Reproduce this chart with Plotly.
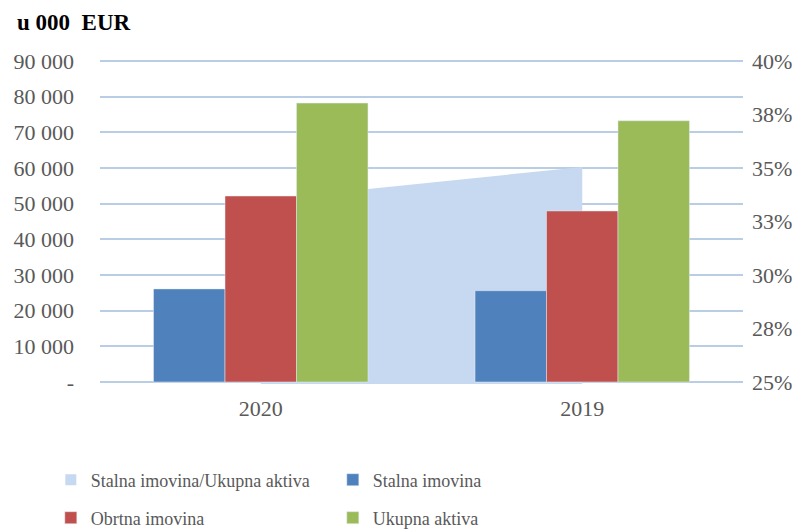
import plotly.graph_objects as go

categories = ["2020", "2019"]
stalna = [26100, 25600]
obrtna = [52150, 47950]
ukupna = [78200, 73250]
ratio = [33.5, 35.05]  # percent

left_ticks = [0, 10000, 20000, 30000, 40000, 50000, 60000, 70000, 80000, 90000]
left_ticktext = ["-", "10 000", "20 000", "30 000", "40 000", "50 000", "60 000", "70 000", "80 000", "90 000"]
right_ticks = [25, 27.5, 30, 32.5, 35, 37.5, 40]
right_ticktext = ["25%", "28%", "30%", "33%", "35%", "38%", "40%"]

FONT = "Liberation Serif"
TXT = "#595959"
GRID = "#b9cde5"
C_AREA, C_BLUE, C_RED, C_GREEN = "#c6d9f0", "#4f81bd", "#c0504d", "#9bbb59"

PAD = 560  # small range padding so the edge gridlines are drawn
pct_pad = PAD / 90000 * 15

fig = go.Figure()
fig.add_trace(go.Scatter(
    x=categories, y=ratio, name="Stalna imovina/Ukupna aktiva",
    mode="none", fill="tozeroy", fillcolor=C_AREA, yaxis="y",
    showlegend=False, legendgroup="ratio",
))
# legend proxy (square symbol) for the area series
fig.add_trace(go.Scatter(
    x=[None], y=[None], name="Stalna imovina/Ukupna aktiva", mode="markers",
    marker=dict(symbol="square", size=11, color=C_AREA), yaxis="y",
    legendgroup="ratio", legend="legend",
))
fig.add_trace(go.Bar(x=categories, y=stalna, name="Stalna imovina", marker_color=C_BLUE,
                     yaxis="y2", legend="legend"))
fig.add_trace(go.Bar(x=categories, y=obrtna, name="Obrtna imovina", marker_color=C_RED,
                     yaxis="y2", legend="legend2"))
fig.add_trace(go.Bar(x=categories, y=ukupna, name="Ukupna aktiva", marker_color=C_GREEN,
                     yaxis="y2", legend="legend2"))

leg_common = dict(orientation="h", x=-0.0765, xanchor="left", yanchor="middle",
                  entrywidth=237, font=dict(size=18, color=TXT, family=FONT),
                  traceorder="normal", itemwidth=30, bgcolor="rgba(0,0,0,0)")

fig.update_layout(
    width=804, height=521,
    margin=dict(l=92, r=69, t=51, b=145, autoexpand=False),
    paper_bgcolor="white", plot_bgcolor="white",
    font=dict(family=FONT, color=TXT, size=22),
    barmode="group", bargap=0.333, bargroupgap=0,
    xaxis=dict(type="category", showgrid=False, showline=False, ticks="",
               tickfont=dict(size=22, color=TXT), ticklabelstandoff=9),
    yaxis=dict(side="right", range=[25 - pct_pad, 40 + pct_pad], tickvals=right_ticks,
               ticktext=right_ticktext, showgrid=False, zeroline=False, showline=False,
               ticks="", tickfont=dict(size=22, color=TXT), ticklabelstandoff=8),
    yaxis2=dict(side="left", overlaying="y", range=[-PAD, 90000 + PAD], tickvals=left_ticks,
                ticktext=left_ticktext, showgrid=True, gridcolor=GRID, gridwidth=1.5,
                zeroline=False, showline=False, ticks="",
                tickfont=dict(size=22, color=TXT), ticklabelstandoff=25),
    legend=dict(y=-0.2954, **leg_common),
    legend2=dict(y=-0.4123, **leg_common),
    showlegend=True,
)
fig.add_annotation(text="<b>u 000  EUR</b>", xref="paper", yref="paper", x=-0.1322, y=1.1138,
                   xanchor="left", yanchor="middle", showarrow=False,
                   font=dict(family=FONT, size=23, color="black"))

fig.write_html("out.html")
